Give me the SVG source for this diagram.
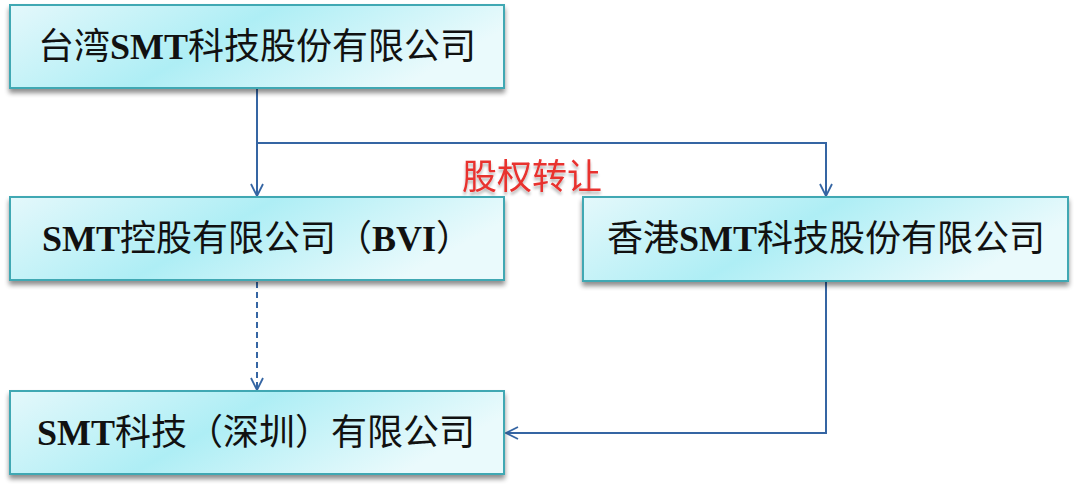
<svg xmlns="http://www.w3.org/2000/svg" width="1080" height="492" viewBox="0 0 1080 492">
<defs>
<linearGradient id="g" x1="0" y1="0" x2="1" y2="0.3">
<stop offset="0" stop-color="#e4f8fb"/>
<stop offset="0.5" stop-color="#aeeef5"/>
<stop offset="1" stop-color="#eafafc"/>
</linearGradient>
<filter id="sh" x="-5%" y="-10%" width="110%" height="130%">
<feGaussianBlur in="SourceAlpha" stdDeviation="2.5"/>
<feOffset dx="0" dy="4"/>
<feComponentTransfer><feFuncA type="linear" slope="0.45"/></feComponentTransfer>
<feMerge><feMergeNode/><feMergeNode in="SourceGraphic"/></feMerge>
</filter>
<filter id="ts" x="-10%" y="-20%" width="120%" height="150%">
<feGaussianBlur in="SourceAlpha" stdDeviation="1.5"/>
<feOffset dx="0" dy="3"/>
<feComponentTransfer><feFuncA type="linear" slope="0.3"/></feComponentTransfer>
<feMerge><feMergeNode/><feMergeNode in="SourceGraphic"/></feMerge>
</filter>
<marker id="ah" viewBox="0 0 14 14" refX="13" refY="7" markerWidth="14" markerHeight="14" markerUnits="userSpaceOnUse" orient="auto">
<path d="M1,1 L13,7 L1,13" fill="none" stroke="#3565a3" stroke-width="1.8"/>
</marker>
</defs>
<style>
.box{fill:url(#g);stroke:#3fa8b3;stroke-width:2;filter:url(#sh)}
.t{font-family:"Noto Sans CJK SC","Liberation Serif",sans-serif;font-size:36px;fill:#111}
.b{font-family:"Liberation Serif",serif;font-weight:bold}
.c{fill:none;stroke:#3565a3;stroke-width:2}
.lbl{font-family:"Noto Sans CJK SC",sans-serif;font-size:35px;fill:#e8302f;filter:url(#ts)}
</style>
<rect width="1080" height="492" fill="#fff"/>
<g id="connectors">
<path class="c" d="M257,89 V196" marker-end="url(#ah)"/>
<path class="c" d="M257,143 H826 V196" marker-end="url(#ah)"/>
<path class="c" d="M257,282 V390" stroke-dasharray="6,4" marker-end="url(#ah)"/>
<path class="c" d="M826,282 V433 H506" marker-end="url(#ah)"/>
<text class="lbl" x="532" y="189" text-anchor="middle">股权转让</text>
</g>
<g id="n1">
<rect class="box" x="10" y="5" width="494" height="83"/>
<text class="t" x="257" y="59" text-anchor="middle">台湾<tspan class="b">SMT</tspan>科技股份有限公司</text>
</g>
<g id="n2">
<rect class="box" x="10" y="197" width="494" height="83"/>
<text class="t" x="257" y="251" text-anchor="middle"><tspan class="b">SMT</tspan>控股有限公司（<tspan class="b">BVI</tspan>）</text>
</g>
<g id="n3">
<rect class="box" x="583" y="197" width="485" height="84"/>
<text class="t" x="826" y="251" text-anchor="middle">香港<tspan class="b">SMT</tspan>科技股份有限公司</text>
</g>
<g id="n4">
<rect class="box" x="10" y="391" width="494" height="83"/>
<text class="t" x="256" y="445" text-anchor="middle"><tspan class="b">SMT</tspan>科技（深圳）有限公司</text>
</g>
</svg>
